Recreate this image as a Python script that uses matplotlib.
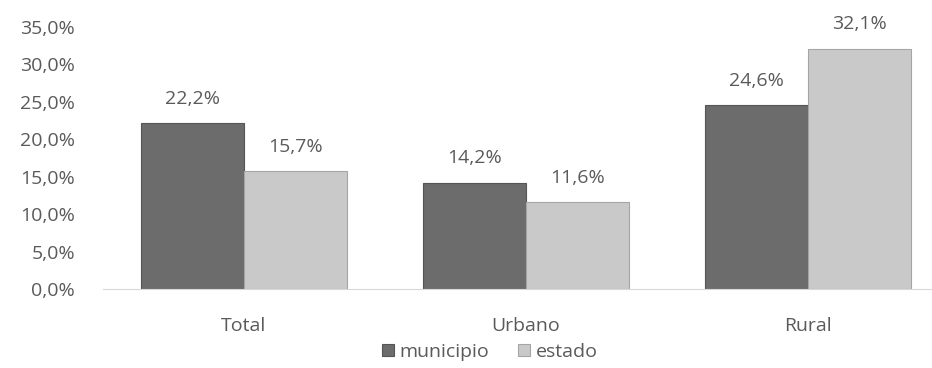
import numpy as np
import matplotlib.pyplot as plt

plt.rcParams['font.family'] = ['Open Sans', 'DejaVu Sans']

categories = ['Total', 'Urbano', 'Rural']
municipio = [22.2, 14.2, 24.6]
estado = [15.7, 11.6, 32.1]
series_names = ['municipio', 'estado']

txt = '#5a5a5a'
fig = plt.figure(figsize=(9.32, 3.68), dpi=100)
ax = fig.add_axes([103/932, 1-289/368, 1-103/932, (289-27)/368])

x = np.arange(len(categories))
w = 0.365
b1 = ax.bar(x - w/2, municipio, w, color='#6c6c6c', edgecolor='#555555', lw=0.8, label=series_names[0])
b2 = ax.bar(x + w/2, estado, w, color='#c9c9c9', edgecolor='#a5a5a5', lw=0.8, label=series_names[1])

for bars in (b1, b2):
    for r in bars:
        v = r.get_height()
        ax.annotate(('%.1f%%' % v).replace('.', ','), (r.get_x() + r.get_width()/2, v),
                    xytext=(0, 11), textcoords='offset points', ha='center', va='bottom',
                    fontsize=14, color=txt)

ax.set_ylim(0, 35)
ax.set_xlim(-0.5, 2.44)
ax.set_yticks(np.arange(0, 36, 5))
ax.set_yticklabels([('%.1f%%' % t).replace('.', ',') for t in np.arange(0, 36, 5)])
ax.set_xticks(x)
ax.set_xticklabels(categories)
ax.tick_params(axis='both', length=0, labelsize=14, labelcolor=txt)
ax.tick_params(axis='y', pad=20)
ax.tick_params(axis='x', pad=20)
for s in ['top', 'right', 'left']:
    ax.spines[s].set_visible(False)
ax.spines['bottom'].set_color('#d8d8d8')

fig.legend(handles=[b1, b2], labels=series_names, loc='center', bbox_to_anchor=(490/932, 1-352/368),
           ncol=2, frameon=False, fontsize=14, labelcolor=txt, handlelength=0.6, handleheight=0.6,
           handletextpad=0.3, columnspacing=1.5)

fig.savefig('out.png', dpi=100)
